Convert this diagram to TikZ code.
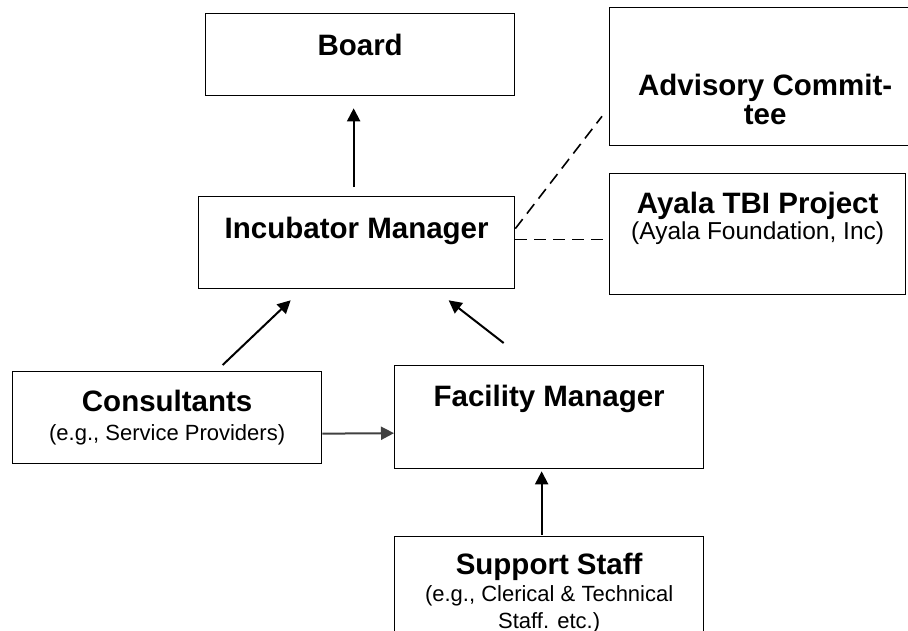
\documentclass[tikz,border=0pt]{standalone}
\usepackage{fontspec}
\setmainfont{Liberation Sans}
\usetikzlibrary{arrows.meta,calc}
\definecolor{arrgray}{HTML}{404040}
\tikzset{
 box/.style={draw=black, line width=1.3pt, rectangle, inner sep=0pt, anchor=north west},
 ttl/.style={font=\fontsize{29.5}{31}\selectfont\bfseries, anchor=base, inner sep=0pt, align=center},
 subtxt/.style={font=\fontsize{22}{27}\selectfont, anchor=base, inner sep=0pt, align=center},
 subbig/.style={font=\fontsize{24.5}{27}\selectfont, anchor=base, inner sep=0pt, align=center},
 arr/.style={line width=2pt, -{Triangle[length=13pt,width=13pt]}},
 dashline/.style={line width=1.6pt, dash pattern=on 12pt off 7pt},
}
\begin{document}
\begin{tikzpicture}[x=1pt,y=-1pt]
\useasboundingbox (0,0) rectangle (908,630);
\clip (0,0) rectangle (908,630);
% boxes
\node[box, minimum width=309pt, minimum height=82pt] (board) at (205,13) {};
\node[box, minimum width=316pt, minimum height=92pt] (im) at (198,196) {};
\node[box, minimum width=311pt, minimum height=138pt] (adv) at (609,7) {};
\node[box, minimum width=296pt, minimum height=121pt] (ayala) at (609,173) {};
\node[box, minimum width=309pt, minimum height=92pt] (cons) at (12,371) {};
\node[box, minimum width=309pt, minimum height=103pt] (fac) at (394,365) {};
\node[box, minimum width=309pt, minimum height=150pt] (sup) at (394,536) {};
% texts
\node[ttl] (tboard) at ([yshift=-42pt]board.north) {Board};
\node[ttl] (tim) at ([yshift=-42pt]im.north) {Incubator Manager};
\node[ttl] (tadv1) at ([yshift=-88pt]adv.north) {Advisory Commit-};
\node[ttl] (tadv2) at ([yshift=-117pt]adv.north) {tee};
\node[ttl] (tayala) at ([yshift=-40pt]ayala.north) {Ayala TBI Project};
\node[subbig] (sayala) at ([yshift=-66pt]ayala.north) {(Ayala Foundation, Inc)};
\node[ttl] (tcons) at ([yshift=-40pt]cons.north) {Consultants};
\node[subtxt] (scons) at ([yshift=-69pt]cons.north) {(e.g., Service Providers)};
\node[ttl] (tfac) at ([yshift=-41pt]fac.north) {Facility Manager};
\node[ttl] (tsup) at ([yshift=-38pt]sup.north) {Support Staff};
\node[subtxt] (ssup1) at ([yshift=-65pt]sup.north) {(e.g., Clerical \& Technical};
\node[subtxt] (ssup2) at ([yshift=-92pt]sup.north) {Staff. etc.)};
% connectors
\draw[arr] ([xshift=-3pt,yshift=9pt]im.north) -- ([xshift=-6.5pt,yshift=-12pt]board.south);
\draw[arr] ([xshift=55.5pt,yshift=6pt]cons.north) -- ([xshift=-66pt,yshift=-11pt]im.south);
\draw[arr] ([xshift=-45.5pt,yshift=22pt]fac.north) -- ([xshift=92pt,yshift=-11pt]im.south);
\draw[arr, draw=arrgray, fill=arrgray] ([yshift=-16pt]cons.east) -- ([yshift=-16pt]fac.west);
\draw[arr] ([xshift=-7.5pt,yshift=1pt]sup.north) -- ([xshift=-7.5pt,yshift=-2pt]fac.south);
\draw[dashline] ([yshift=14pt]im.east) -- ([xshift=-7pt,yshift=30pt]adv.south west);
\draw[dashline] ([yshift=3pt]im.east) -- ([yshift=3pt]im.east -| ayala.west);
\end{tikzpicture}
\end{document}
